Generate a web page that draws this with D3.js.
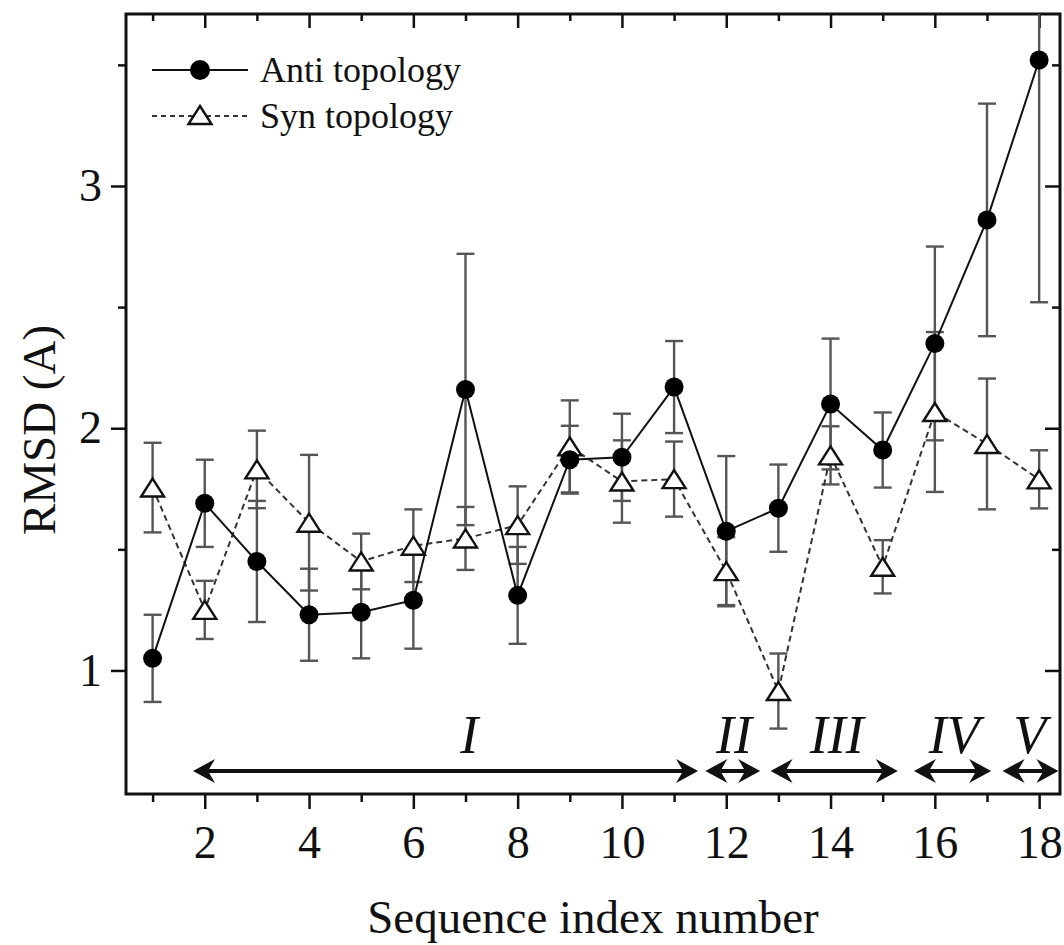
<!DOCTYPE html>
<html>
<head>
<meta charset="utf-8">
<script src="https://cdn.jsdelivr.net/npm/d3@7"></script>
<style>
  html, body { margin: 0; padding: 0; background: #fff; }
  svg { display: block; }
  text { font-family: "Liberation Serif", "Times New Roman", serif; fill: #111; }
</style>
</head>
<body>
<svg id="chart" width="1064" height="945"></svg>
<script>
// Sequence indices 1..18
const seqIndex = [1, 2, 3, 4, 5, 6, 7, 8, 9, 10, 11, 12, 13, 14, 15, 16, 17, 18];

// Mean RMSD and standard deviation, anti topology
const antiRmsd = [1.05, 1.69, 1.45, 1.23, 1.24, 1.29, 2.16, 1.31, 1.87, 1.88, 2.17, 1.575, 1.67, 2.10, 1.91, 2.35, 2.86, 3.52];
const antiErr  = [0.18, 0.18, 0.25, 0.19, 0.19, 0.20, 0.56, 0.20, 0.14, 0.18, 0.19, 0.31, 0.18, 0.27, 0.155, 0.40, 0.48, 1.00];

// Mean RMSD and standard deviation, syn topology
const synRmsd = [1.755, 1.25, 1.83, 1.61, 1.45, 1.515, 1.545, 1.60, 1.925, 1.78, 1.79, 1.41, 0.915, 1.888, 1.428, 2.067, 1.935, 1.789];
const synErr  = [0.185, 0.12, 0.16, 0.28, 0.115, 0.15, 0.13, 0.16, 0.19, 0.17, 0.155, 0.14, 0.155, 0.12, 0.11, 0.33, 0.27, 0.12];

// Axis ticks
const xMajorTicks = [2, 4, 6, 8, 10, 12, 14, 16, 18];
const xMinorTicks = [1, 3, 5, 7, 9, 11, 13, 15, 17];
const yMajorTicks = [1, 2, 3];
const yMinorTicks = [1.5, 2.5, 3.5];

// Sequence groups shown as double-headed arrows
const groupLabels = ["I", "II", "III", "IV", "V"];
const groupStart  = [1.775, 11.6, 12.85, 15.6, 17.3];
const groupEnd    = [11.46, 12.65, 15.29, 17.08, 18.37];
const groupLabelX = [7.07, 12.15, 14.12, 16.37, 17.82];

const svg = d3.select("#chart");
const plotLeft = 126, plotRight = 1060, plotTop = 14, plotBottom = 794;

const x = d3.scaleLinear().domain([0.49, 18.4]).range([plotLeft, plotRight]);
const y = d3.scaleLinear().domain([0.49, 3.71]).range([plotBottom, plotTop]);

svg.append("defs").append("clipPath").attr("id", "plotClip")
  .append("rect").attr("x", plotLeft).attr("y", plotTop)
  .attr("width", plotRight - plotLeft).attr("height", plotBottom - plotTop);

// ---- axes ----
function styleAxis(g) {
  g.select(".domain").remove();
  g.selectAll(".tick line").attr("stroke", "#111").attr("stroke-width", 2.5);
  g.selectAll(".tick text").style("font-size", "46px")
    .style("font-family", '"Liberation Serif", "Times New Roman", serif').attr("fill", "#111");
}

svg.append("g").attr("transform", `translate(0,${plotBottom})`)
  .call(d3.axisBottom(x).tickValues(xMajorTicks).tickSize(15).tickPadding(16).tickFormat(d3.format("d")))
  .call(styleAxis);
svg.append("g").attr("transform", `translate(0,${plotBottom})`)
  .call(d3.axisBottom(x).tickValues(xMinorTicks).tickSize(8).tickFormat(""))
  .call(styleAxis);

svg.append("g").attr("transform", `translate(0,${plotTop})`)
  .call(d3.axisTop(x).tickValues(xMajorTicks).tickSize(-14).tickFormat(""))
  .call(styleAxis);
svg.append("g").attr("transform", `translate(0,${plotTop})`)
  .call(d3.axisTop(x).tickValues(xMinorTicks).tickSize(-7).tickFormat(""))
  .call(styleAxis);

svg.append("g").attr("transform", `translate(${plotLeft},0)`)
  .call(d3.axisLeft(y).tickValues(yMajorTicks).tickSize(15).tickPadding(9).tickFormat(d3.format("d")))
  .call(styleAxis);
svg.append("g").attr("transform", `translate(${plotLeft},0)`)
  .call(d3.axisLeft(y).tickValues(yMinorTicks).tickSize(8).tickFormat(""))
  .call(styleAxis);

svg.append("g").attr("transform", `translate(${plotRight},0)`)
  .call(d3.axisRight(y).tickValues(yMajorTicks).tickSize(-15).tickFormat(""))
  .call(styleAxis);
svg.append("g").attr("transform", `translate(${plotRight},0)`)
  .call(d3.axisRight(y).tickValues(yMinorTicks).tickSize(-8).tickFormat(""))
  .call(styleAxis);

// frame
svg.append("rect").attr("x", plotLeft).attr("y", plotTop)
  .attr("width", plotRight - plotLeft).attr("height", plotBottom - plotTop)
  .attr("fill", "none").attr("stroke", "#111").attr("stroke-width", 3);

// axis titles
svg.append("text").attr("x", (plotLeft + plotRight) / 2).attr("y", 933)
  .attr("text-anchor", "middle").style("font-size", "47px")
  .text("Sequence index number");
svg.append("text")
  .attr("transform", `translate(55,430) rotate(-90)`)
  .attr("text-anchor", "middle").style("font-size", "47px")
  .text("RMSD (A)");

// ---- data ----
const anti = seqIndex.map((s, i) => ({ s, v: antiRmsd[i], e: antiErr[i] }));
const syn  = seqIndex.map((s, i) => ({ s, v: synRmsd[i], e: synErr[i] }));

const plot = svg.append("g").attr("clip-path", "url(#plotClip)");
const capHalf = 9;

function errorBars(data) {
  const g = plot.append("g").attr("stroke", "#555").attr("stroke-width", 2.4).attr("fill", "none");
  data.forEach(d => {
    const cx = x(d.s), y0 = y(d.v - d.e), y1 = y(d.v + d.e);
    g.append("line").attr("x1", cx).attr("x2", cx).attr("y1", y0).attr("y2", y1);
    g.append("line").attr("x1", cx - capHalf).attr("x2", cx + capHalf).attr("y1", y0).attr("y2", y0);
    g.append("line").attr("x1", cx - capHalf).attr("x2", cx + capHalf).attr("y1", y1).attr("y2", y1);
  });
}
errorBars(syn);
errorBars(anti);

const line = d3.line().x(d => x(d.s)).y(d => y(d.v));
plot.append("path").datum(syn).attr("d", line)
  .attr("fill", "none").attr("stroke", "#333").attr("stroke-width", 2)
  .attr("stroke-dasharray", "6,4");
plot.append("path").datum(anti).attr("d", line)
  .attr("fill", "none").attr("stroke", "#111").attr("stroke-width", 2);

const triPath = "M0,-9L11.5,9L-11.5,9Z";
plot.append("g").selectAll("path").data(syn).join("path")
  .attr("d", triPath)
  .attr("transform", d => `translate(${x(d.s)},${y(d.v)})`)
  .attr("fill", "#fff").attr("stroke", "#111").attr("stroke-width", 2.4);

plot.append("g").selectAll("circle").data(anti).join("circle")
  .attr("cx", d => x(d.s)).attr("cy", d => y(d.v)).attr("r", 9.5)
  .attr("fill", "#000");

// ---- group arrows ----
const arrowY = 771;
const headLen = 22, headHalf = 12, notch = 7;
const arrows = svg.append("g");
groupLabels.forEach((lab, i) => {
  const xa = x(groupStart[i]), xb = x(groupEnd[i]);
  arrows.append("line").attr("x1", xa + headLen - notch).attr("x2", xb - headLen + notch)
    .attr("y1", arrowY).attr("y2", arrowY)
    .attr("stroke", "#111").attr("stroke-width", 4);
  arrows.append("path")
    .attr("d", `M${xa},${arrowY}L${xa + headLen},${arrowY - headHalf}L${xa + headLen - notch},${arrowY}L${xa + headLen},${arrowY + headHalf}Z`)
    .attr("fill", "#111");
  arrows.append("path")
    .attr("d", `M${xb},${arrowY}L${xb - headLen},${arrowY - headHalf}L${xb - headLen + notch},${arrowY}L${xb - headLen},${arrowY + headHalf}Z`)
    .attr("fill", "#111");
  arrows.append("text").attr("x", x(groupLabelX[i])).attr("y", 753)
    .attr("text-anchor", "middle").style("font-size", "54px").style("font-style", "italic")
    .text(lab);
});

// ---- legend ----
const legend = svg.append("g");
legend.append("line").attr("x1", 152).attr("x2", 248).attr("y1", 70).attr("y2", 70)
  .attr("stroke", "#111").attr("stroke-width", 2);
legend.append("circle").attr("cx", 200).attr("cy", 70).attr("r", 10).attr("fill", "#000");
legend.append("text").attr("x", 260).attr("y", 82).style("font-size", "36px").text("Anti topology");

legend.append("line").attr("x1", 152).attr("x2", 248).attr("y1", 116).attr("y2", 116)
  .attr("stroke", "#333").attr("stroke-width", 2).attr("stroke-dasharray", "5,4");
legend.append("path").attr("d", triPath).attr("transform", "translate(200,115)")
  .attr("fill", "#fff").attr("stroke", "#111").attr("stroke-width", 2.4);
legend.append("text").attr("x", 260).attr("y", 128).style("font-size", "36px").text("Syn topology");
</script>
</body>
</html>
